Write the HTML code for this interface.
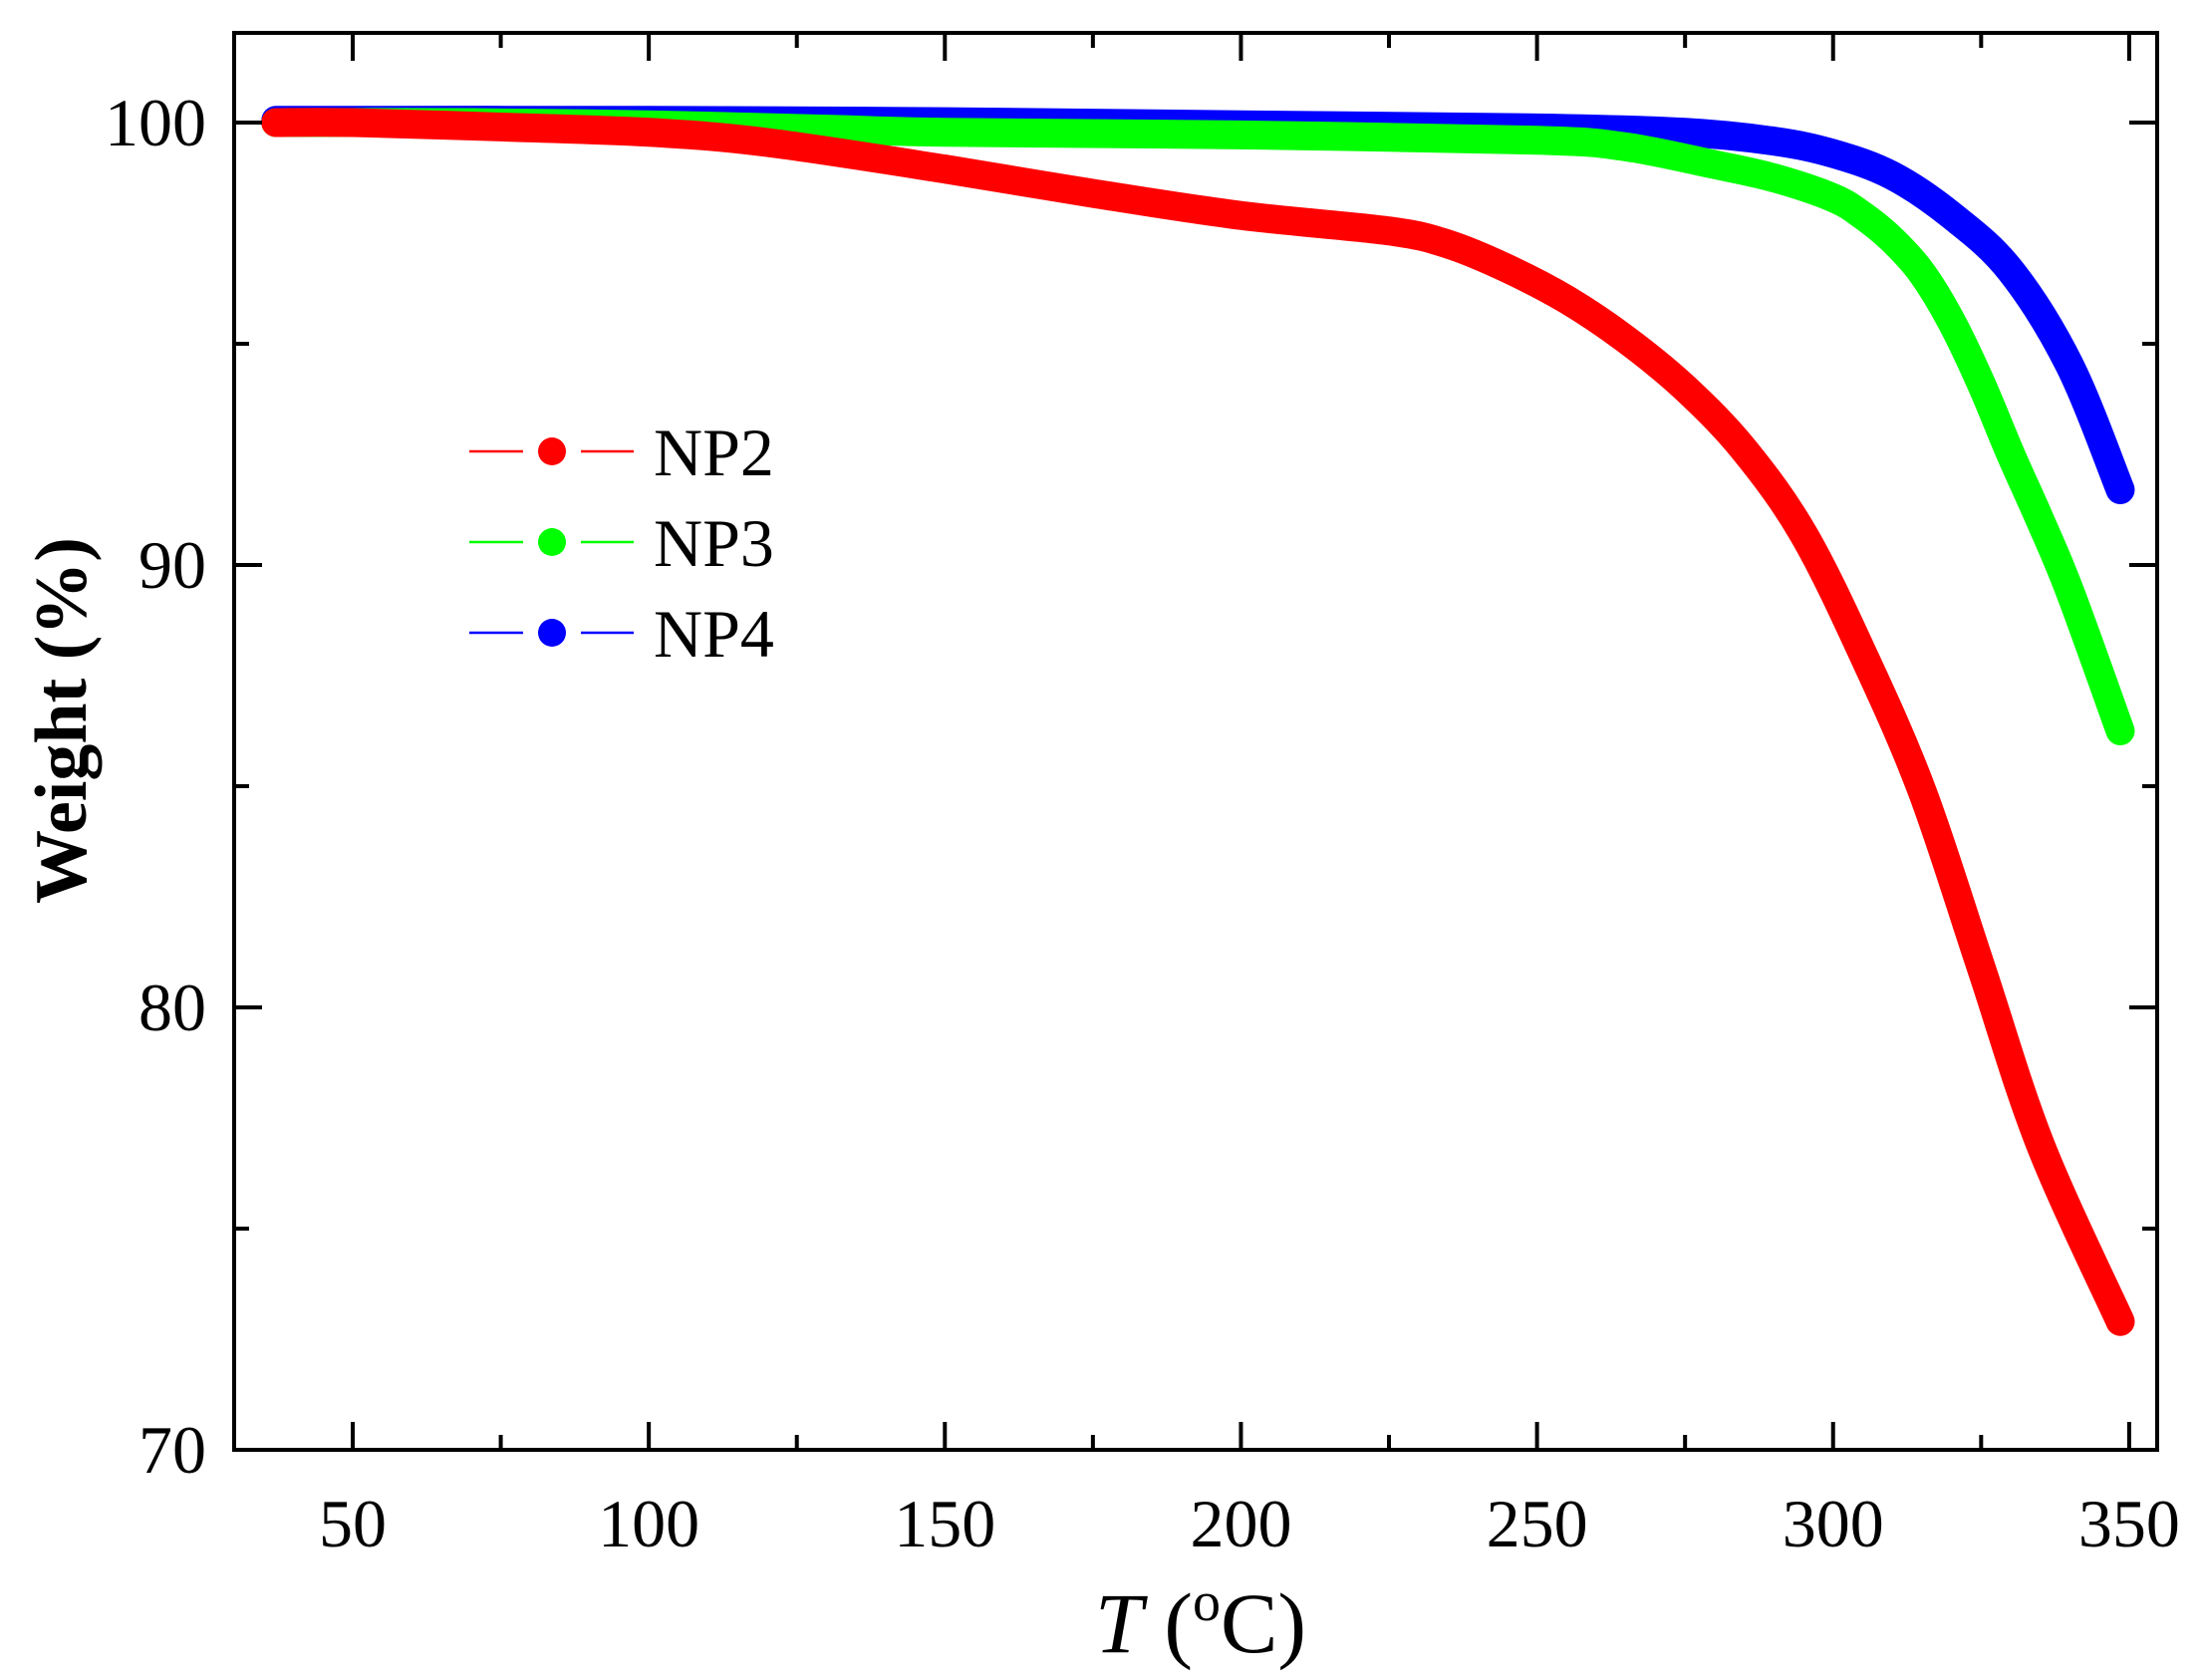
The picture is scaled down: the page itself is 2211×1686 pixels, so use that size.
<!DOCTYPE html>
<html><head><meta charset="utf-8"><style>
html,body{margin:0;padding:0;background:#fff;}
svg{display:block;}
text{font-family:"Liberation Serif","Times New Roman",serif;fill:#000;}
</style></head><body>
<svg id="s" width="2211" height="1686" viewBox="0 0 2211 1686" xmlns="http://www.w3.org/2000/svg" font-family="Liberation Serif, serif">
<g id="curves" fill="none" stroke-width="29" stroke-linecap="round" stroke-linejoin="round"></g>
<rect x="235" y="33" width="1930" height="1422" fill="none" stroke="#000" stroke-width="4"/>
<g id="ticks" stroke="#000" stroke-width="4"></g>
<g font-size="68" text-anchor="end" font-family="Liberation Serif, serif">
<text x="207" y="146">100</text>
<text x="207" y="590">90</text>
<text x="207" y="1034">80</text>
<text x="207" y="1478">70</text>
</g>
<g font-size="68" text-anchor="middle" id="xl" font-family="Liberation Serif, serif"></g>
<text x="1205" y="1658" font-size="86" text-anchor="middle" font-family="Liberation Serif, serif"><tspan font-style="italic">T</tspan> (<tspan font-size="56" dy="-32">o</tspan><tspan dy="32">C)</tspan></text>
<text transform="translate(86,723) rotate(-90)" font-size="74" font-weight="bold" text-anchor="middle" font-family="Liberation Serif, serif">Weight (%)</text>
<g stroke-width="2.5">
<line x1="471" y1="453" x2="525" y2="453" stroke="#f00"/><line x1="583" y1="453" x2="636" y2="453" stroke="#f00"/><circle cx="554" cy="453" r="14" fill="#f00"/>
<line x1="471" y1="544" x2="525" y2="544" stroke="#0f0"/><line x1="583" y1="544" x2="636" y2="544" stroke="#0f0"/><circle cx="554" cy="544" r="14" fill="#0f0"/>
<line x1="471" y1="635" x2="525" y2="635" stroke="#00f"/><line x1="583" y1="635" x2="636" y2="635" stroke="#00f"/><circle cx="554" cy="635" r="14" fill="#00f"/>
</g>
<g font-size="68" font-family="Liberation Serif, serif">
<text x="656" y="477">NP2</text>
<text x="656" y="568">NP3</text>
<text x="656" y="659">NP4</text>
</g>
</svg>
<script>
var NS="http://www.w3.org/2000/svg";
function X(t){return 354+(t-50)*5.943;}
function Y(w){return 123+(100-w)*44.4;}
var tk=document.getElementById('ticks'),xl=document.getElementById('xl');
function ln(x1,y1,x2,y2){var l=document.createElementNS(NS,'line');l.setAttribute('x1',x1);l.setAttribute('y1',y1);l.setAttribute('x2',x2);l.setAttribute('y2',y2);tk.appendChild(l);}
for(var t=50;t<=350;t+=25){var x=X(t),L=(t%50==0)?28:15;ln(x,1455,x,1455-L);ln(x,33,x,33+L);
 if(t%50==0){var e=document.createElementNS(NS,'text');e.setAttribute('x',x);e.setAttribute('y',1552);e.textContent=t;xl.appendChild(e);}}
for(var w=70;w<=100;w+=5){var y=Y(w),L=(w%10==0)?28:15;ln(235,y,235+L,y);ln(2165,y,2165-L,y);}
var data={
'#00f':[[37,100.05],[100,100.05],[150,100.02],[200,99.95],[250,99.88],[275,99.78],[290,99.58],[300,99.3],[310,98.8],[320,97.9],[330,96.65],[340,94.5],[348.5,91.7]],
'#0f0':[[37,100],[70,100],[100,99.95],[130,99.85],[150,99.78],[200,99.72],[250,99.6],[265,99.45],[280,99.05],[290,98.75],[300,98.3],[305,97.9],[310,97.35],[315,96.6],[320,95.5],[325,94.1],[330,92.5],[335,91.0],[340,89.4],[348.5,86.25]],
'#f00':[[37,100],[50,100],[75,99.9],[100,99.78],[120,99.55],[150,98.95],[175,98.4],[200,97.9],[225,97.55],[235,97.25],[245,96.7],[255,96.0],[265,95.1],[275,94.0],[285,92.6],[295,90.7],[305,88.0],[315,84.9],[325,80.9],[335,76.9],[348.5,72.9]]};
var g=document.getElementById('curves');
for(var c in data){var p=data[c].map(function(a){return [X(a[0]),Y(a[1])];});
 var d='M'+p[0][0]+','+p[0][1];
 for(var i=0;i<p.length-1;i++){var p0=p[i-1]||p[i],p1=p[i],p2=p[i+1],p3=p[i+2]||p2;
  d+=' C'+(p1[0]+(p2[0]-p0[0])/6)+','+(p1[1]+(p2[1]-p0[1])/6)+' '+(p2[0]-(p3[0]-p1[0])/6)+','+(p2[1]-(p3[1]-p1[1])/6)+' '+p2[0]+','+p2[1];}
 var pa=document.createElementNS(NS,'path');pa.setAttribute('d',d);pa.setAttribute('stroke',c);g.appendChild(pa);}
</script>
</body></html>
